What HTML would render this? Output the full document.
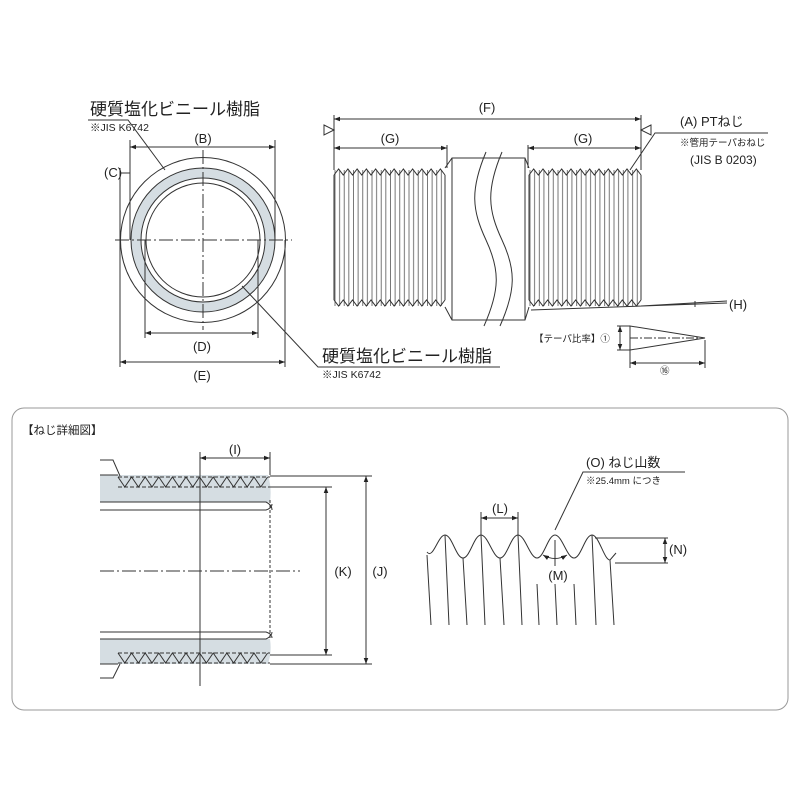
<!DOCTYPE html>
<html><head><meta charset="utf-8"><style>
html,body{margin:0;padding:0;background:#fff}
svg{display:block}
text{font-family:"Liberation Sans","Noto Sans CJK JP",sans-serif;fill:#222}
</style></head><body>
<svg width="800" height="800" viewBox="0 0 800 800" xmlns="http://www.w3.org/2000/svg">
<defs>
<marker id="a" viewBox="0 0 8 6" refX="8" refY="3" markerWidth="6" markerHeight="5" orient="auto-start-reverse"><path d="M0,0L8,3L0,6z" fill="#222"/></marker>
<pattern id="pl" x="334" y="0" width="9.25" height="800" patternUnits="userSpaceOnUse"><path d="M1,0V800M5.6,0V800" stroke="#555" stroke-width="0.8"/></pattern>
<pattern id="pr" x="529" y="0" width="9.333" height="800" patternUnits="userSpaceOnUse"><path d="M1,0V800M5.6,0V800" stroke="#555" stroke-width="0.8"/></pattern>
</defs>
<g stroke="#333" stroke-width="1" fill="none">
<circle cx="203" cy="240" r="82.5"/>
<circle cx="203" cy="240" r="67" stroke="#d5dde2" stroke-width="10"/>
<circle cx="203" cy="240" r="72"/>
<circle cx="203" cy="240" r="62"/>
<circle cx="203" cy="240" r="57"/>
<line x1="115" y1="240" x2="292" y2="240" stroke-dasharray="14,3,2,3"/>
<line x1="203" y1="150" x2="203" y2="330" stroke-dasharray="14,3,2,3"/>
<line x1="130" y1="140" x2="130" y2="240"/><line x1="275" y1="140" x2="275" y2="240"/>
<line x1="130" y1="147" x2="275" y2="147" marker-start="url(#a)" marker-end="url(#a)"/>
<line x1="120" y1="168" x2="120" y2="240"/>
<line x1="120" y1="173" x2="130" y2="173"/>
<line x1="145" y1="240" x2="145" y2="338"/><line x1="258" y1="240" x2="258" y2="338"/>
<line x1="145" y1="333" x2="258" y2="333" marker-start="url(#a)" marker-end="url(#a)"/>
<line x1="120" y1="240" x2="120" y2="367"/><line x1="285" y1="240" x2="285" y2="367"/>
<line x1="120" y1="362" x2="285" y2="362" marker-start="url(#a)" marker-end="url(#a)"/>
<polyline points="88,120 128,120 165,170"/>
<polyline points="242,286 318,367 500,367"/>
<rect x="334" y="170" width="111" height="136" fill="url(#pl)" stroke="none"/>
<rect x="529" y="170" width="112" height="136" fill="url(#pr)" stroke="none"/>
<path d="M334,175 l4.625,-6 l4.625,6 l4.625,-6 l4.625,6 l4.625,-6 l4.625,6 l4.625,-6 l4.625,6 l4.625,-6 l4.625,6 l4.625,-6 l4.625,6 l4.625,-6 l4.625,6 l4.625,-6 l4.625,6 l4.625,-6 l4.625,6 l4.625,-6 l4.625,6 l4.625,-6 l4.625,6 l4.625,-6 l4.625,6"/>
<path d="M334,300 l4.625,6 l4.625,-6 l4.625,6 l4.625,-6 l4.625,6 l4.625,-6 l4.625,6 l4.625,-6 l4.625,6 l4.625,-6 l4.625,6 l4.625,-6 l4.625,6 l4.625,-6 l4.625,6 l4.625,-6 l4.625,6 l4.625,-6 l4.625,6 l4.625,-6 l4.625,6 l4.625,-6 l4.625,6 l4.625,-6"/>
<path d="M529,175 l4.667,-6 l4.667,6 l4.667,-6 l4.667,6 l4.667,-6 l4.667,6 l4.667,-6 l4.667,6 l4.667,-6 l4.667,6 l4.667,-6 l4.667,6 l4.667,-6 l4.667,6 l4.667,-6 l4.667,6 l4.667,-6 l4.667,6 l4.667,-6 l4.667,6 l4.667,-6 l4.667,6 l4.667,-6 l4.667,6"/>
<path d="M529,300 l4.667,6 l4.667,-6 l4.667,6 l4.667,-6 l4.667,6 l4.667,-6 l4.667,6 l4.667,-6 l4.667,6 l4.667,-6 l4.667,6 l4.667,-6 l4.667,6 l4.667,-6 l4.667,6 l4.667,-6 l4.667,6 l4.667,-6 l4.667,6 l4.667,-6 l4.667,6 l4.667,-6 l4.667,6 l4.667,-6"/>
<path d="M334,175V300M445,175V300M529,175V300M641,175V300"/>
<path d="M445,168 L452,158 L525,158 L529,168 M445,307 L452,320 L525,320 L529,307"/>
<line x1="452" y1="158" x2="452" y2="320"/><line x1="525" y1="158" x2="525" y2="320"/>
<path d="M486,152 C470,190 472,210 486,240 C500,270 500,290 484,326"/>
<path d="M502,152 C486,190 488,210 502,240 C516,270 516,290 500,326"/>
<line x1="334" y1="115" x2="334" y2="170"/><line x1="641" y1="115" x2="641" y2="170"/>
<line x1="447" y1="145" x2="447" y2="168"/><line x1="528" y1="145" x2="528" y2="168"/>
<line x1="334" y1="119" x2="641" y2="119" marker-start="url(#a)" marker-end="url(#a)"/>
<line x1="334" y1="148" x2="447" y2="148" marker-start="url(#a)" marker-end="url(#a)"/>
<line x1="528" y1="148" x2="641" y2="148" marker-start="url(#a)" marker-end="url(#a)"/>
<path d="M324,125 L334,130 L324,135z"/><path d="M651,125 L641,130 L651,135z"/>
<polyline points="768,133 655,133 630,170"/>
<path d="M531,310 L727,303 M641,306 L727,301"/><line x1="695" y1="301" x2="695" y2="307"/>
<path d="M630,326 L705,338 L630,350z"/>
<line x1="630" y1="338" x2="700" y2="338" stroke-dasharray="8,2,2,2"/>
<line x1="617" y1="326" x2="630" y2="326"/><line x1="617" y1="350" x2="630" y2="350"/>
<line x1="620" y1="326" x2="620" y2="350" marker-start="url(#a)" marker-end="url(#a)"/>
<line x1="630" y1="350" x2="630" y2="368"/><line x1="705" y1="340" x2="705" y2="368"/>
<line x1="630" y1="363" x2="705" y2="363" marker-start="url(#a)" marker-end="url(#a)"/>
<rect x="12" y="408" width="776" height="302" rx="12" stroke="#999"/>
<path d="M100,475 L268,475 Q272,488 270,502 L100,502z" fill="#d5dde2" stroke="none"/>
<path d="M100,639 L270,639 Q272,652 268,664 L100,664z" fill="#d5dde2" stroke="none"/>
<path d="M100,475H118M100,664H118"/>
<path d="M100,502 L266,502 Q272,505 272,510 M100,510 L266,510 Q272,508 272,504"/>
<path d="M100,639 L266,639 Q272,636 272,632 M100,632 L266,632 Q272,634 272,638"/>
<line x1="118" y1="477" x2="270" y2="477" stroke-dasharray="4,2"/>
<line x1="118" y1="487" x2="270" y2="487" stroke-dasharray="4,2"/>
<line x1="118" y1="653" x2="270" y2="653" stroke-dasharray="4,2"/>
<line x1="118" y1="663" x2="270" y2="663" stroke-dasharray="4,2"/>
<path d="M118,477 l6.8,10 l6.8,-10 l6.8,10 l6.8,-10 l6.8,10 l6.8,-10 l6.8,10 l6.8,-10 l6.8,10 l6.8,-10 l6.8,10 l6.8,-10 l6.8,10 l6.8,-10 l6.8,10 l6.8,-10 l6.8,10 l6.8,-10 l6.8,10 l6.8,-10 l6.8,10 l6.8,-10"/>
<path d="M118,653 l6.8,10 l6.8,-10 l6.8,10 l6.8,-10 l6.8,10 l6.8,-10 l6.8,10 l6.8,-10 l6.8,10 l6.8,-10 l6.8,10 l6.8,-10 l6.8,10 l6.8,-10 l6.8,10 l6.8,-10 l6.8,10 l6.8,-10 l6.8,10 l6.8,-10 l6.8,10 l6.8,-10"/>
<polyline points="100,460 113,460 120,476"/><polyline points="120,664 113,678 100,678"/>
<line x1="100" y1="571" x2="300" y2="571" stroke-dasharray="14,3,2,3"/>
<line x1="200" y1="452" x2="200" y2="686"/>
<line x1="270" y1="452" x2="270" y2="475"/>
<line x1="270" y1="500" x2="270" y2="640" stroke-dasharray="3,2"/>
<line x1="200" y1="458" x2="270" y2="458" marker-start="url(#a)" marker-end="url(#a)"/>
<line x1="270" y1="476" x2="372" y2="476"/><line x1="270" y1="664" x2="372" y2="664"/>
<line x1="366" y1="476" x2="366" y2="664" marker-start="url(#a)" marker-end="url(#a)"/>
<line x1="270" y1="487" x2="332" y2="487"/><line x1="270" y1="655" x2="332" y2="655"/>
<line x1="326" y1="487" x2="326" y2="655" marker-start="url(#a)" marker-end="url(#a)"/>
<path d="M427,552 C433,560 438,535 445,535 C452,535 456,558 463,558 C470,558 474,535 481,535 C488,535 493,558 500,558 C507,558 511,535 518,535 C525,535 530,558 537,558 C544,558 548,535 555,535 C562,535 567,558 574,558 C581,558 585,535 592,535 C599,535 604,560 610,560 L616,553"/>
<path d="M427,555L431,625 M445,535L449,625 M463,558L467,625 M481,535L485,625 M500,558L504,625 M518,535L522,625 M537,584L539,625 M555,584L557,625 M574,584L576,625 M592,535L596,625 M610,560L614,625"/>
<line x1="481" y1="512" x2="481" y2="536"/><line x1="518" y1="512" x2="518" y2="536"/>
<line x1="481" y1="518" x2="518" y2="518" marker-start="url(#a)" marker-end="url(#a)"/>
<polyline points="685,472 583,472 555,530"/>
<path d="M543,555 Q555,562 567,555" marker-start="url(#a)" marker-end="url(#a)"/>
<line x1="555" y1="540" x2="555" y2="566"/>
<line x1="595" y1="538" x2="668" y2="538"/><line x1="615" y1="563" x2="668" y2="563"/>
<line x1="665" y1="538" x2="665" y2="563" marker-start="url(#a)" marker-end="url(#a)"/>
</g>
<g font-size="17">
<text x="90" y="115">硬質塩化ビニール樹脂</text>
<text x="322" y="362">硬質塩化ビニール樹脂</text>
</g>
<g font-size="10.5">
<text x="90" y="131">※JIS K6742</text>
<text x="322" y="378">※JIS K6742</text>
</g>
<g font-size="13" text-anchor="middle">
<text x="203" y="143">(B)</text>
<text x="202" y="351">(D)</text>
<text x="202" y="380">(E)</text>
<text x="487" y="112">(F)</text>
<text x="390" y="143">(G)</text>
<text x="583" y="143">(G)</text>
<text x="235" y="454">(I)</text>
<text x="343" y="576">(K)</text>
<text x="380" y="576">(J)</text>
<text x="500" y="513">(L)</text>
<text x="558" y="580">(M)</text>
</g>
<g font-size="13">
<text x="104" y="177">(C)</text>
<text x="680" y="126">(A) PTねじ</text>
<text x="690" y="164" font-size="12">(JIS B 0203)</text>
<text x="729" y="309">(H)</text>
<text x="669" y="554">(N)</text>
<text x="586" y="467">(O) ねじ山数</text>
</g>
<g font-size="9.5">
<text x="680" y="146">※管用テーパおねじ</text>
<text x="586" y="484">※25.4mm につき</text>
<text x="534" y="342">【テーパ比率】①</text>
<text x="660" y="374">⑯</text>
</g>
<text x="22" y="434" font-size="11.5">【ねじ詳細図】</text>
</svg>
</body></html>
